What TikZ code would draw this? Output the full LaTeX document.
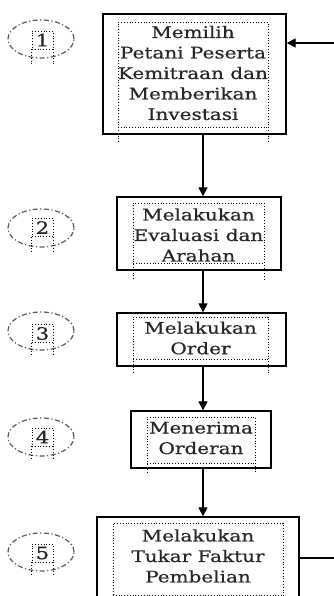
\documentclass[tikz,border=0pt]{standalone}
\usepackage{fontspec}
\setmainfont{DejaVu Serif}[FakeStretch=1.25,FakeBold=0.6]
\usetikzlibrary{arrows.meta,shapes.geometric}
\begin{document}
\begin{tikzpicture}[x=1pt,y=-1pt,
 outerbox/.style={draw, line width=1.3pt, rectangle, inner sep=0pt},
 innerbox/.style={draw, dotted, line width=0.8pt},
 txt/.style={align=center, font=\fontsize{16}{20.5}\selectfont, inner sep=0pt, text=black!85},
 flow/.style={line width=1.2pt, -{Triangle[width=9pt,length=9pt]}},
 stepnum/.style={draw=black!65, dash pattern=on 5pt off 2.5pt on 1.2pt off 2.5pt, line width=1.2pt, ellipse, minimum width=66pt, minimum height=38pt, inner sep=0pt},
 numbox/.style={draw, dotted, line width=0.8pt, inner sep=0pt, minimum width=21pt, minimum height=18pt, font=\fontsize{17}{17}\selectfont, text=black!85},
 numleg/.style={draw, dotted, line width=0.8pt}
]
\useasboundingbox (0,0) rectangle (334,596);
\coordinate (ax) at (203,0);

% Step 1
\node[outerbox, minimum width=183pt, minimum height=120pt] (b1) at (194.5,74) {};
\draw[innerbox] (118,142) -- (118,22) -- (268,22) -- (268,142);
\draw[innerbox] (118,127) -- (268,127);
\node[txt] (t1) at (193,73) {Memilih\\Petani Peserta\\Kemitraan dan\\Memberikan\\Investasi};

% Step 2
\node[outerbox, minimum width=164pt, minimum height=73pt] (b2) at (199,233.5) {};
\draw[innerbox] (133,279) -- (133,203) -- (264,203) -- (264,279);
\draw[innerbox] (133,263) -- (264,263);
\node[txt] (t2) at (198.5,235) {Melakukan\\Evaluasi dan\\Arahan};

% Step 3
\node[outerbox, minimum width=169pt, minimum height=53pt] (b3) at (201.5,339.5) {};
\draw[innerbox] (133,373) -- (133,317) -- (268,317) -- (268,373);
\draw[innerbox] (133,359) -- (268,359);
\node[txt] (t3) at (200.5,338) {Melakukan\\Order};

% Step 4
\node[outerbox, minimum width=140pt, minimum height=57pt] (b4) at (201,439.5) {};
\draw[innerbox] (147,473) -- (147,417) -- (255,417) -- (255,473);
\draw[innerbox] (147,463) -- (255,463);
\node[txt] (t4) at (201,438) {Menerima\\Orderan};

% Step 5
\node[outerbox, minimum width=202pt, minimum height=93pt] (b5) at (198,563.5) {};
\draw[innerbox] (113,600) -- (113,523) -- (283,523) -- (283,600);
\draw[innerbox] (113,595) -- (283,595);
\node[txt] (t5) at (198,556) {Melakukan\\Tukar Faktur\\Pembelian};

% Connectors
\draw[flow] (b1.south -| ax) -- (b2.north -| ax);
\draw[flow] (b2.south -| ax) -- (b3.north -| ax);
\draw[flow] (b3.south -| ax) -- (b4.north -| ax);
\draw[flow] (b4.south -| ax) -- (b5.north -| ax);
\coordinate (e1) at (334,43);
\coordinate (e5) at (334,558);
\draw[flow] (e1) -- (e1 -| b1.east);
\draw[line width=1.2pt] (b5.east |- e5) -- (e5);

% Step numbers
\node[stepnum] (c1) at (41,39) {};
\node[numbox] (n1) at (42.5,40) {1};
\draw[numleg] (n1.south west) -- ++(0,16) (n1.south east) -- ++(0,16);

\node[stepnum] (c2) at (41,228) {};
\node[numbox] (n2) at (42.5,227.5) {2};
\draw[numleg] (n2.south west) -- ++(0,15) (n2.south east) -- ++(0,15);

\node[stepnum] (c3) at (41,331) {};
\node[numbox] (n3) at (42.5,333.5) {3};
\draw[numleg] (n3.south west) -- ++(0,13) (n3.south east) -- ++(0,13);

\node[stepnum] (c4) at (41,437) {};
\node[numbox] (n4) at (42.5,437) {4};
\draw[numleg] (n4.south west) -- ++(0,13) (n4.south east) -- ++(0,13);

\node[stepnum] (c5) at (41,552) {};
\node[numbox] (n5) at (42.5,553) {5};
\draw[numleg] (n5.south west) -- ++(0,12) (n5.south east) -- ++(0,12);
\end{tikzpicture}
\end{document}
